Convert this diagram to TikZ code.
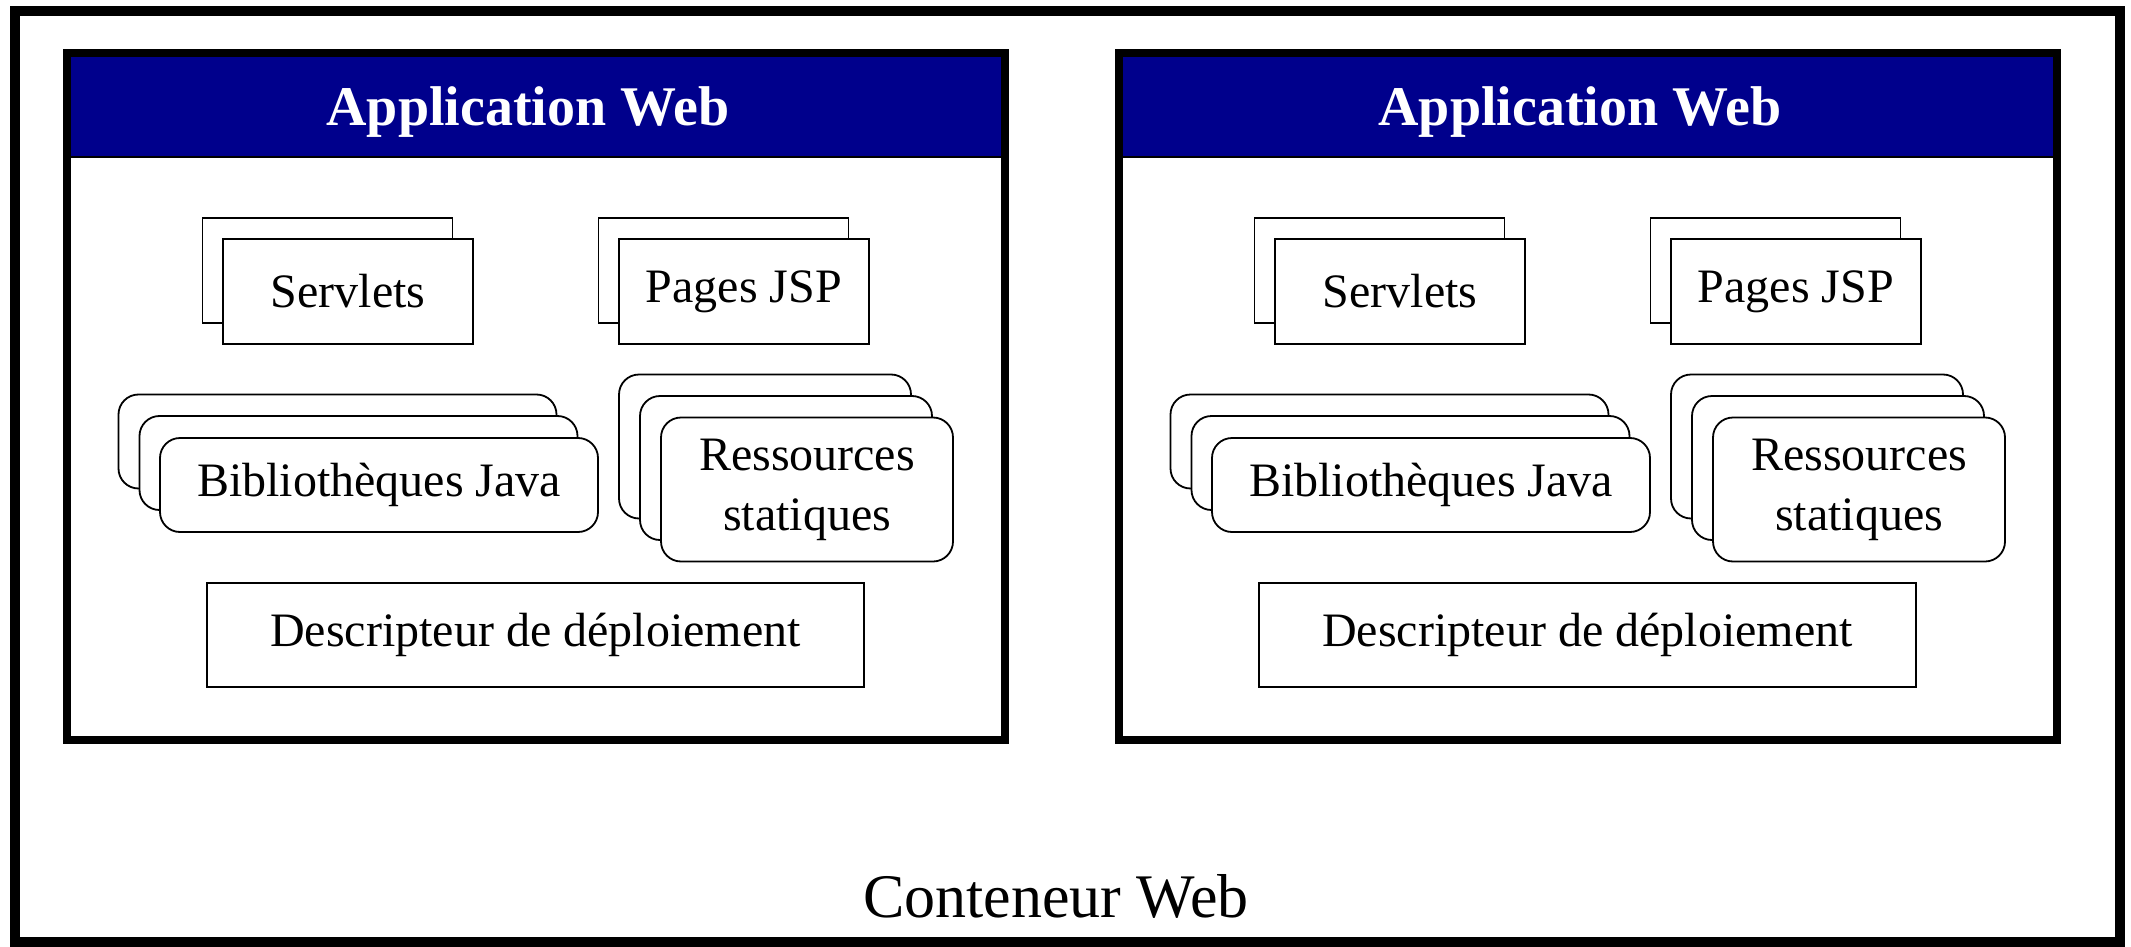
\documentclass[tikz,border=0pt]{standalone}
\usepackage{fontspec}
\setmainfont{Liberation Serif}
\definecolor{hdrblue}{RGB}{0,0,140}
\begin{document}
\begin{tikzpicture}[x=0.5pt,y=-0.5pt,
  lbl/.style={font=\fontsize{24}{30}\selectfont, align=center},
  sqbox/.style={draw, fill=white, line width=0.9pt, inner sep=0pt, lbl},
  rbox/.style={sqbox, rounded corners=10pt},
  pagebox/.style={sqbox, minimum width=125pt, minimum height=52.5pt},
  libbox/.style={rbox, minimum width=219pt, minimum height=47pt},
  resbox/.style={rbox, minimum width=146pt, minimum height=72pt},
  appframe/.style={draw, line width=4pt, minimum width=469pt, minimum height=343.25pt, inner sep=0pt},
  hdrband/.style={fill=hdrblue, minimum width=465pt, minimum height=50pt, inner sep=0pt},
  hdrtext/.style={text=white, font=\fontsize{28}{30}\selectfont\bfseries, inner sep=0pt, anchor=base},
]
\useasboundingbox (0,0) rectangle (2131,947);
\node[draw, line width=5pt, minimum width=1052.5pt, minimum height=465.5pt, inner sep=0pt] (cont) at (1067.5,476.5) {};
\node[font=\fontsize{31}{34}\selectfont, inner sep=0pt, anchor=base] (contlbl) at (1056,917) {Conteneur Web};
\foreach \s/\ox in {L/0,R/1052}{
  \node[hdrband] (hdr\s) at (\ox+536,107) {};
  \draw[line width=1pt] (hdr\s.south west) -- (hdr\s.south east);
  \node[hdrtext] (ttl\s) at (\ox+528,126) {Application Web};
  \node[appframe] (app\s) at (\ox+536,396.25) {};
  % Servlets
  \node[pagebox] (svb\s) at (\ox+327.5,270.5) {};
  \node[pagebox] (sv\s) at (\ox+348,291.5) {Servlets};
  % Pages JSP
  \node[pagebox] (jspb\s) at (\ox+723.5,270.5) {};
  \node[pagebox] (jsp\s) at (\ox+744,291.5) {Pages JSP};
  % Bibliotheques Java
  \node[libbox] (libc\s) at (\ox+337.5,441.5) {};
  \node[libbox] (libb\s) at (\ox+358.5,463) {};
  \node[libbox] (lib\s) at (\ox+379,485) {Bibliothèques Java};
  % Ressources statiques
  \node[resbox] (resc\s) at (\ox+765,446.5) {};
  \node[resbox] (resb\s) at (\ox+786,468) {};
  \node[resbox] (res\s) at (\ox+807,489.5) {Ressources\\statiques};
  % Descripteur
  \node[sqbox, minimum width=328.5pt, minimum height=52pt] (desc\s) at (\ox+535.5,635) {Descripteur de déploiement};
}
\end{tikzpicture}
\end{document}
